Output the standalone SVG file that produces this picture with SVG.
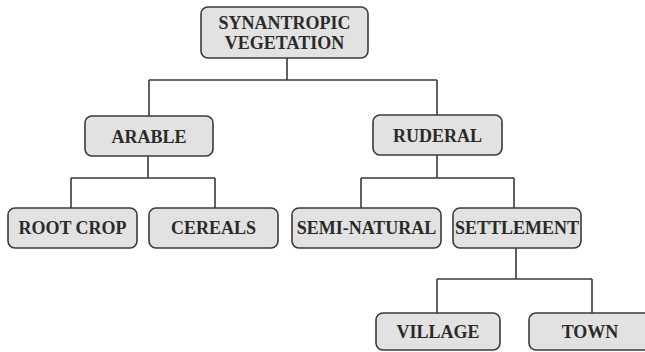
<svg xmlns="http://www.w3.org/2000/svg" width="645" height="352" viewBox="0 0 645 352">
<style>
.box{fill:#e2e2e2;stroke:#3a3a3a;stroke-width:1.6}
.lbl{font-family:"Liberation Serif","DejaVu Serif",serif;font-weight:bold;font-size:18px;fill:#2a2a2a;text-anchor:middle}
.con{fill:none;stroke:#3a3a3a;stroke-width:1.6}
</style>
<rect width="645" height="352" fill="#fff"/>
<g id="connectors" class="con">
<path d="M287 58V80M149 80H437M149 80V116M437 80V115"/>
<path d="M148 156V178M71 178H215M71 178V208M215 178V208"/>
<path d="M437 155V178M361 178H514M361 178V208M514 178V208"/>
<path d="M516 248V279M437 279H592M437 279V313M592 279V313"/>
</g>
<g id="synantropic"><rect class="box" x="201" y="7" width="167" height="51" rx="7"/><text class="lbl" x="284.5" y="29">SYNANTROPIC</text><text class="lbl" x="284.5" y="49">VEGETATION</text></g>
<g id="arable"><rect class="box" x="85" y="116" width="128" height="40" rx="7"/><text class="lbl" x="149" y="143">ARABLE</text></g>
<g id="ruderal"><rect class="box" x="373" y="115" width="129" height="40" rx="7"/><text class="lbl" x="437.5" y="142">RUDERAL</text></g>
<g id="rootcrop"><rect class="box" x="8" y="208" width="129" height="40" rx="7"/><text class="lbl" x="72.5" y="234">ROOT CROP</text></g>
<g id="cereals"><rect class="box" x="149" y="208" width="129" height="40" rx="7"/><text class="lbl" x="213.5" y="234">CEREALS</text></g>
<g id="seminatural"><rect class="box" x="292" y="208" width="149" height="40" rx="7"/><text class="lbl" x="366.5" y="234">SEMI-NATURAL</text></g>
<g id="settlement"><rect class="box" x="453" y="208" width="128" height="40" rx="7"/><text class="lbl" x="517" y="234">SETTLEMENT</text></g>
<g id="village"><rect class="box" x="376" y="313" width="124" height="37" rx="7"/><text class="lbl" x="438" y="338">VILLAGE</text></g>
<g id="town"><rect class="box" x="529" y="313" width="124" height="37" rx="7"/><text class="lbl" x="590" y="338">TOWN</text></g>
</svg>
